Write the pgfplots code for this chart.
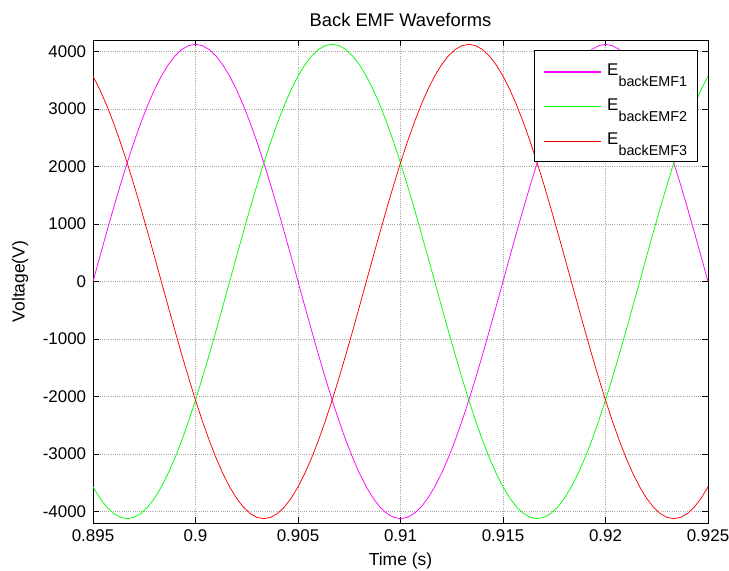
\documentclass[border=0pt]{standalone}
\usepackage{fontspec}
\setmainfont{Liberation Sans}
\usepackage{pgfplots}
\pgfplotsset{compat=1.18}
\usepackage{pgfplotstable}
\definecolor{mmag}{rgb}{1,0,1}
\definecolor{mgreen}{rgb}{0,1,0}
\definecolor{mred}{rgb}{1,0,0}
\pgfplotstableread{
t e1 e2 e3
0.895000 0 -3572 3572
0.895333 431 -3768 3337
0.895667 858 -3923 3066
0.896000 1275 -4035 2760
0.896333 1678 -4102 2425
0.896667 2063 -4125 2063
0.897000 2425 -4102 1678
0.897333 2760 -4035 1275
0.897667 3066 -3923 858
0.898000 3337 -3768 431
0.898333 3572 -3572 0
0.898667 3768 -3337 -431
0.899000 3923 -3066 -858
0.899333 4035 -2760 -1275
0.899667 4102 -2425 -1678
0.900000 4125 -2063 -2063
0.900333 4102 -1678 -2425
0.900667 4035 -1275 -2760
0.901000 3923 -858 -3066
0.901333 3768 -431 -3337
0.901667 3572 0 -3572
0.902000 3337 431 -3768
0.902333 3066 858 -3923
0.902667 2760 1275 -4035
0.903000 2425 1678 -4102
0.903333 2063 2063 -4125
0.903667 1678 2425 -4102
0.904000 1275 2760 -4035
0.904333 858 3066 -3923
0.904667 431 3337 -3768
0.905000 0 3572 -3572
0.905333 -431 3768 -3337
0.905667 -858 3923 -3066
0.906000 -1275 4035 -2760
0.906333 -1678 4102 -2425
0.906667 -2063 4125 -2063
0.907000 -2425 4102 -1678
0.907333 -2760 4035 -1275
0.907667 -3066 3923 -858
0.908000 -3337 3768 -431
0.908333 -3572 3572 0
0.908667 -3768 3337 431
0.909000 -3923 3066 858
0.909333 -4035 2760 1275
0.909667 -4102 2425 1678
0.910000 -4125 2063 2063
0.910333 -4102 1678 2425
0.910667 -4035 1275 2760
0.911000 -3923 858 3066
0.911333 -3768 431 3337
0.911667 -3572 0 3572
0.912000 -3337 -431 3768
0.912333 -3066 -858 3923
0.912667 -2760 -1275 4035
0.913000 -2425 -1678 4102
0.913333 -2063 -2063 4125
0.913667 -1678 -2425 4102
0.914000 -1275 -2760 4035
0.914333 -858 -3066 3923
0.914667 -431 -3337 3768
0.915000 0 -3572 3572
0.915333 431 -3768 3337
0.915667 858 -3923 3066
0.916000 1275 -4035 2760
0.916333 1678 -4102 2425
0.916667 2063 -4125 2063
0.917000 2425 -4102 1678
0.917333 2760 -4035 1275
0.917667 3066 -3923 858
0.918000 3337 -3768 431
0.918333 3572 -3572 0
0.918667 3768 -3337 -431
0.919000 3923 -3066 -858
0.919333 4035 -2760 -1275
0.919667 4102 -2425 -1678
0.920000 4125 -2063 -2063
0.920333 4102 -1678 -2425
0.920667 4035 -1275 -2760
0.921000 3923 -858 -3066
0.921333 3768 -431 -3337
0.921667 3572 0 -3572
0.922000 3337 431 -3768
0.922333 3066 858 -3923
0.922667 2760 1275 -4035
0.923000 2425 1678 -4102
0.923333 2063 2063 -4125
0.923667 1678 2425 -4102
0.924000 1275 2760 -4035
0.924333 858 3066 -3923
0.924667 431 3337 -3768
0.925000 0 3572 -3572
}\emfdata

\newcommand{\sub}[1]{\raisebox{-11bp}{\fontsize{14.4}{15}\selectfont #1}}

\begin{document}
\fontsize{17}{20}\selectfont
\begin{tikzpicture}
\begin{axis}[
  scale only axis,
  width=615bp, height=483bp,
  xmin=0.895, xmax=0.925, ymin=-4200, ymax=4200,
  xtick={0.895,0.9,0.905,0.91,0.915,0.92,0.925},
  xticklabels={0.895,0.9,0.905,0.91,0.915,0.92,0.925},
  ytick={-4000,-3000,-2000,-1000,0,1000,2000,3000,4000},
  yticklabels={-4000,-3000,-2000,-1000,0,1000,2000,3000,4000},
  scaled ticks=false,
  tick align=inside,
  major tick length=6bp,
  every tick/.style={black, line width=0.6bp},
  grid=major,
  grid style={gray!70, dash pattern=on 1bp off 1.2bp, line width=0.6bp},
  axis line style={black, line width=0.9bp},
  ticklabel style={font=\fontsize{17}{20}\selectfont},
  xticklabel style={yshift=-1bp},
  yticklabel style={xshift=-1bp},
  title={Back EMF Waveforms},
  title style={font=\fontsize{18.4}{22}\selectfont, yshift=2bp},
  xlabel={Time (s)},
  ylabel={Voltage(V)},
  ylabel style={yshift=3bp},
  label style={font=\fontsize{17.5}{20}\selectfont},
  legend style={
    at={(axis description cs:1,1)}, anchor=north east,
    xshift=-10bp, yshift=-10bp,
    draw=black, line width=0.8bp, fill=white,
    font=\fontsize{17}{20}\selectfont,
    inner xsep=8.5bp, inner ysep=11.5bp,
    row sep=16.5bp,
    cells={anchor=west},
    /tikz/every odd column/.append style={column sep=4bp},
  },
  legend image code/.code={\draw[#1, line width=1.2bp] (0bp,-1bp) -- (57bp,-1bp);},
]
\addplot[color=mmag, line width=0.75bp] table[x=t, y=e1] {\emfdata};
\addlegendentry{E\sub{backEMF1}}
\addplot[color=mgreen, line width=0.75bp] table[x=t, y=e2] {\emfdata};
\addlegendentry{E\sub{backEMF2}}
\addplot[color=mred, line width=0.75bp] table[x=t, y=e3] {\emfdata};
\addlegendentry{E\sub{backEMF3}}
\end{axis}
\pgfresetboundingbox
\path (-93bp,-48bp) rectangle (636bp,523bp);
\end{tikzpicture}
\end{document}
